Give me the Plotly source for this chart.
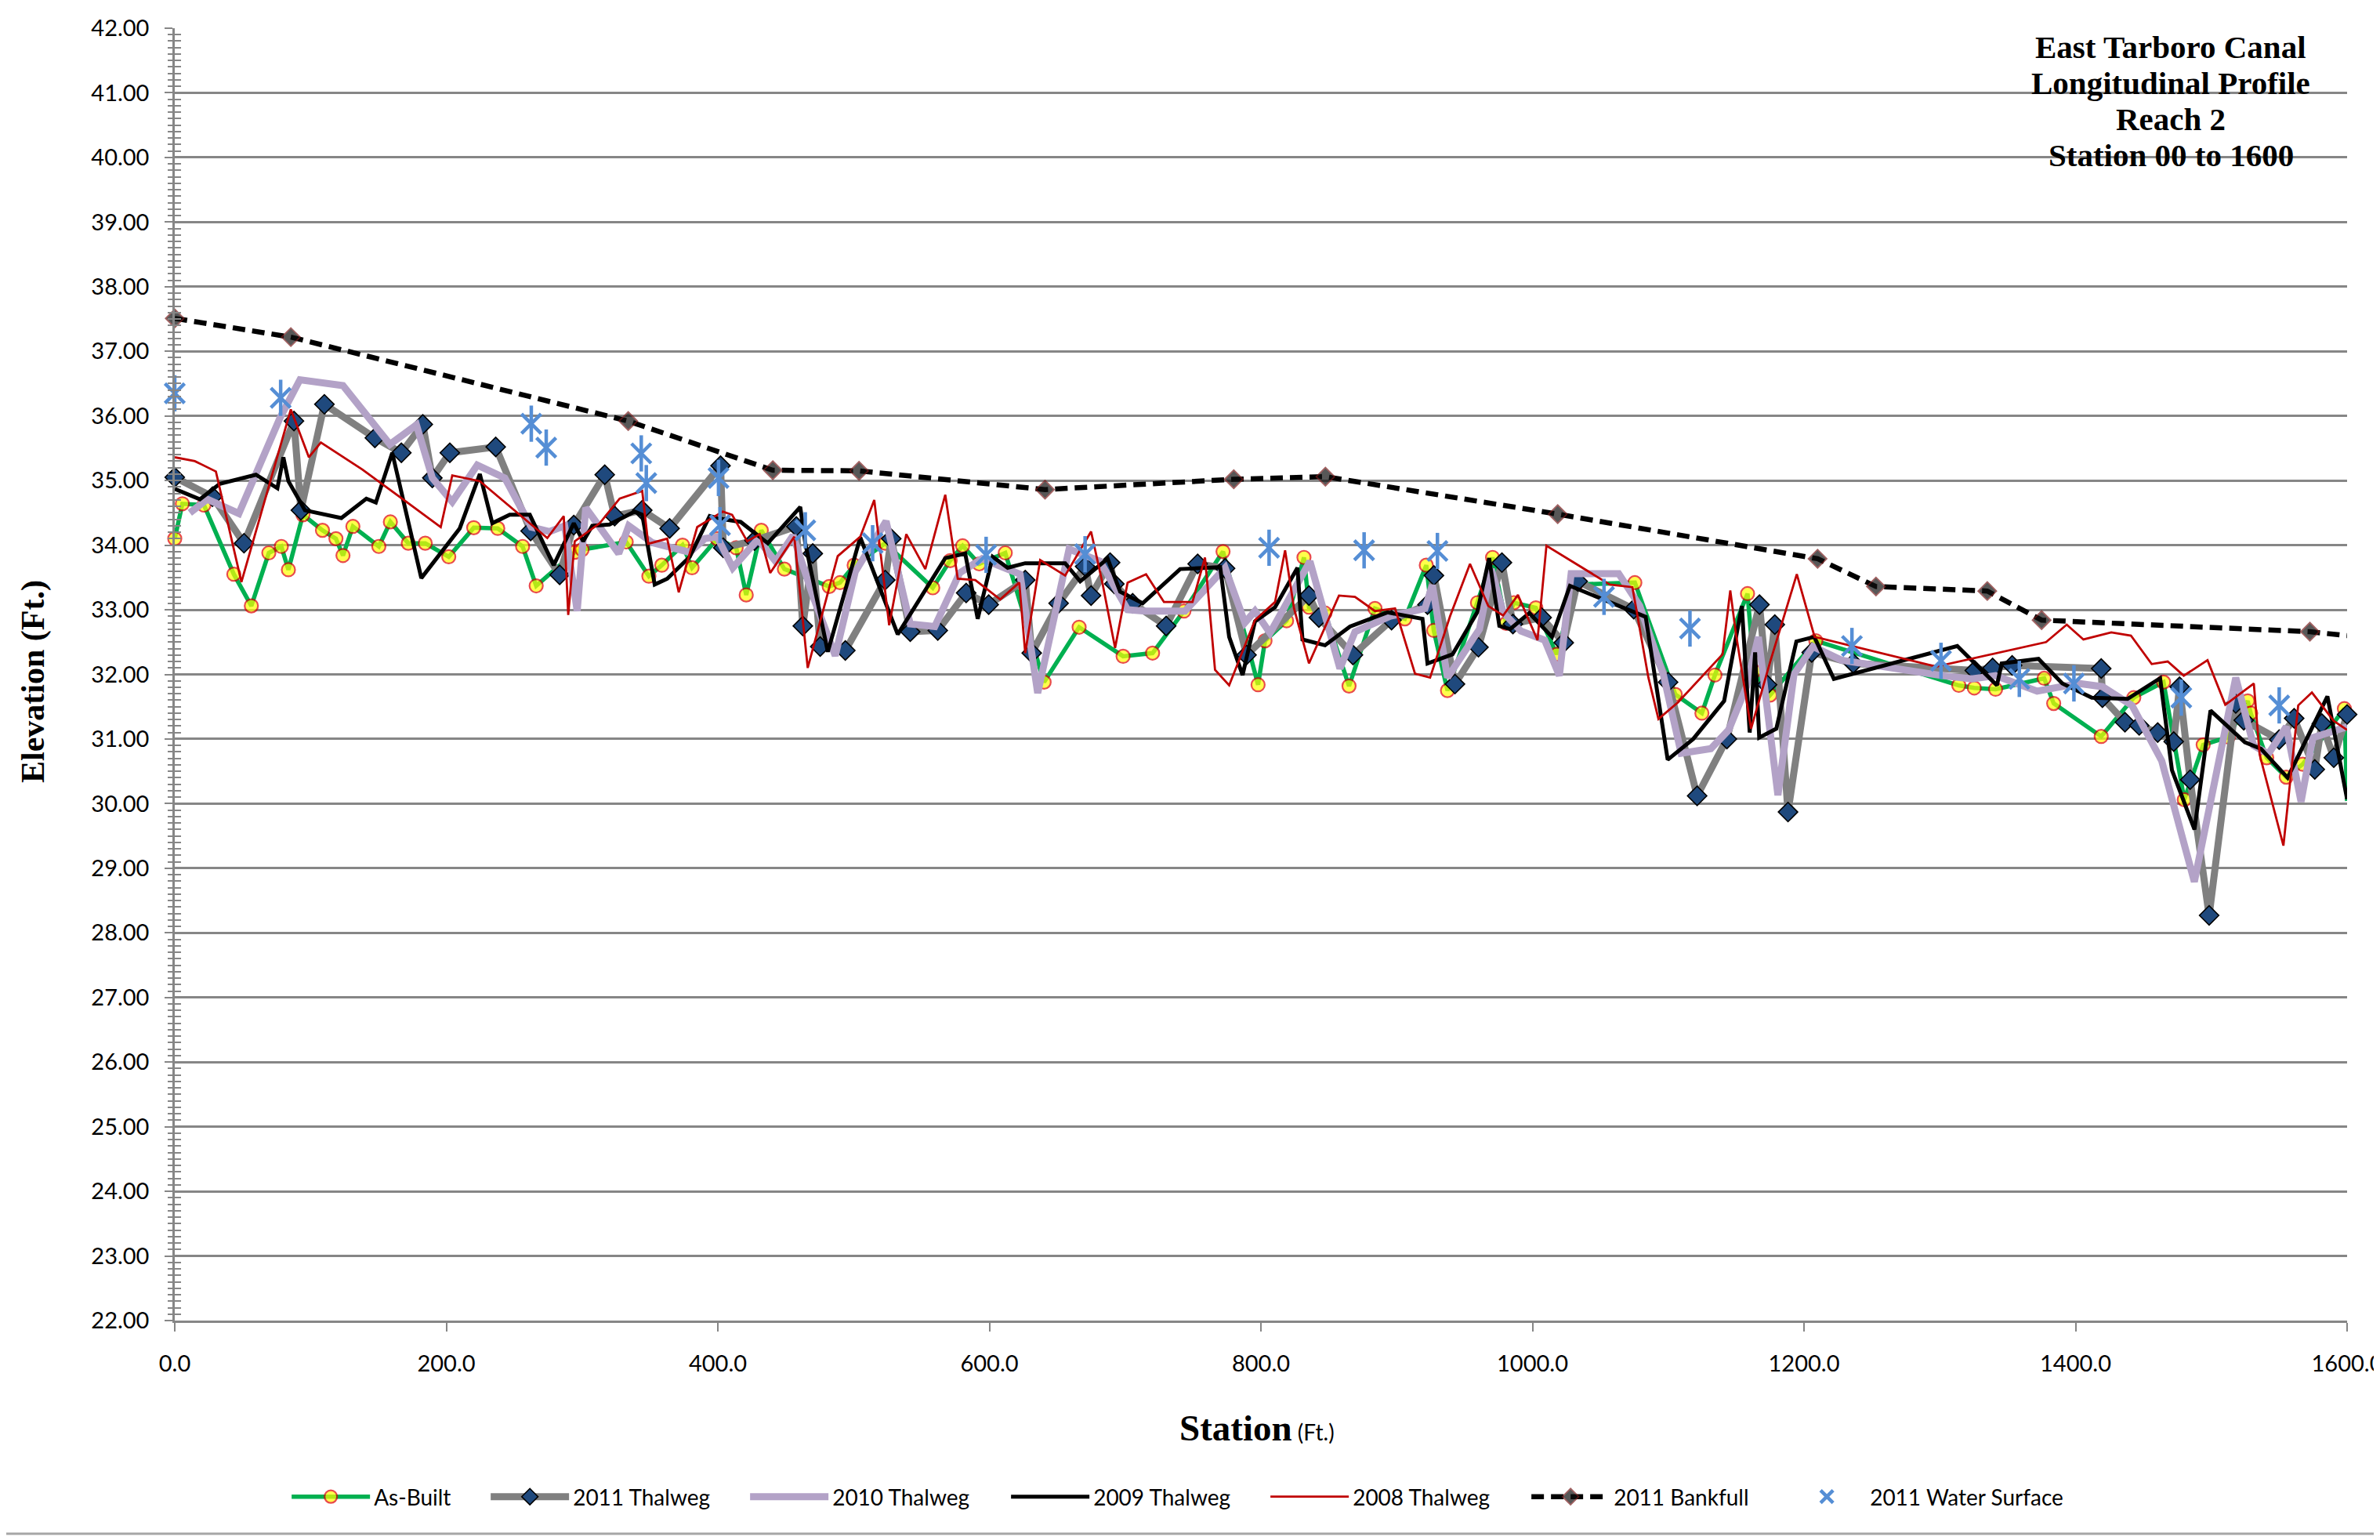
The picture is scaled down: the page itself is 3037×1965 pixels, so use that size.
import plotly.graph_objects as go

# ---------------- data ----------------
ab_x = [0, 5.6, 21.5, 43.5, 56.4, 69.3, 78.5, 83.7, 94.4, 108.8, 118.7, 123.9, 131.2, 150.3, 158.8, 172, 184.5,
        201.8, 220.2, 237.9, 256.2, 266.2, 294.6, 300, 332.5, 349.2, 358.7, 374, 381, 399.5, 413.5, 420.9, 432,
        449, 482, 490, 500.4, 523.3, 558.3, 571.1, 580.3, 592.5, 611.7, 640.3, 666.1, 698.5, 720.2, 743.3, 772.1,
        797.9, 803, 818.9, 831.7, 835.4, 847.2, 864.9, 884, 906, 921.8, 927.3, 937.4, 959.5, 970.6, 980.6, 986.3,
        1002.5, 1017.8, 1031.8, 1075.4, 1105.2, 1124.8, 1134.4, 1158.4, 1163.2, 1175, 1208.7, 1314, 1325.4,
        1341.1, 1376.9, 1383.9, 1418.9, 1442.9, 1464.8, 1480.1, 1494, 1512.5, 1526.8, 1529, 1540.8, 1555.2,
        1567.3, 1598, 1600]
ab_y = [34.10, 34.64, 34.62, 33.55, 33.06, 33.88, 33.98, 33.62, 34.47, 34.23, 34.10, 33.84, 34.29, 33.98, 34.36,
        34.03, 34.03, 33.82, 34.27, 34.26, 33.98, 33.37, 33.89, 33.93, 34.05, 33.52, 33.69, 34.00, 33.65, 34.10,
        33.96, 33.23, 34.23, 33.63, 33.36, 33.42, 33.69, 34.03, 33.34, 33.76, 33.99, 33.71, 33.88, 31.88, 32.73,
        32.28, 32.33, 32.98, 33.90, 31.84, 32.52, 32.83, 33.81, 33.04, 32.95, 31.82, 33.02, 32.86, 33.69, 32.68,
        31.75, 33.11, 33.81, 32.79, 33.11, 33.03, 32.31, 33.39, 33.42, 31.69, 31.40, 31.99, 33.25, 32.05, 31.68,
        32.52, 31.83, 31.79, 31.77, 31.94, 31.55, 31.04, 31.64, 31.88, 30.06, 30.91, 31.03, 31.59, 31.40, 30.71,
        30.41, 30.61, 31.47, 30.04]

t11_x = [0, 27.8, 51, 87.8, 92.9, 110.2, 147.4, 166.9, 182.7, 189.7, 202.6, 236.4, 262.1, 283.5, 293.9, 316.7,
         324, 344.3, 364.5, 402, 404, 427, 457.8, 462.6, 469.9, 475.4, 493.9, 523.3, 527.7, 541.7, 562, 582.9,
         599.5, 626.4, 631.2, 651, 670.5, 674.9, 688.9, 692, 705.5, 730.2, 753.4, 773.6, 789.4, 835.4, 842.7,
         867.8, 896.2, 922.7, 927.4, 942.9, 960.2, 977.5, 985.6, 1006.8, 1023, 1033.3, 1074.6, 1099.9, 1121.3,
         1143.2, 1167.2, 1172.8, 1178.5, 1188.2, 1205.7, 1236.3, 1325.8, 1338.9, 1353.3, 1418.9, 1419.8, 1436.4,
         1446.9, 1460.5, 1472.3, 1476.6, 1484.4, 1498.4, 1518, 1523.9, 1550, 1561, 1576.2, 1581.4, 1590.2, 1600]
t11_y = [35.05, 34.75, 34.03, 35.92, 34.54, 36.18, 35.66, 35.43, 35.87, 35.04, 35.43, 35.52, 34.22, 33.54, 34.31,
         35.09, 34.45, 34.54, 34.26, 35.23, 33.96, 34.07, 34.29, 32.75, 33.87, 32.43, 32.37, 33.46, 34.10, 32.66,
         32.68, 33.26, 33.08, 33.46, 32.33, 33.10, 33.67, 33.22, 33.73, 33.40, 33.10, 32.75, 33.71, 33.64, 32.30,
         33.22, 32.88, 32.30, 32.84, 33.08, 33.53, 31.85, 32.42, 33.73, 32.78, 32.88, 32.49, 33.44, 33.01, 31.88,
         30.12, 31.00, 33.08, 31.84, 32.77, 29.87, 32.34, 32.17, 32.06, 32.10, 32.14, 32.09, 31.64, 31.26, 31.21,
         31.10, 30.96, 31.81, 30.37, 28.27, 31.55, 31.29, 30.99, 31.32, 30.53, 31.24, 30.71, 31.38]

t10_x = [11.1, 24, 47.2, 77.5, 92.2, 123.9, 158.5, 178, 189.7, 204.4, 222.8, 243.1, 262.6, 276.1, 287.2, 296.4,
         302.7, 327, 334.4, 351.7, 379.3, 390.4, 399.5, 411, 429.5, 442.5, 455.4, 469.9, 486.5, 501.2, 523.9,
         541.7, 559.8, 578.1, 594.6, 622.6, 635.6, 658.7, 681.5, 701.8, 714.7, 744.1, 773.6, 788.2, 795.6, 806.7,
         836.1, 858.2, 869.3, 895, 920.8, 926.3, 937.4, 961, 969.7, 978.4, 991.5, 1009, 1019.8, 1028.5, 1063.5,
         1079, 1096.4, 1109.5, 1131.4, 1144.5, 1157.6, 1166.4, 1180.8, 1192.6, 1206.6, 1227.6, 1301.8, 1323.6,
         1341.1, 1371.7, 1402.3, 1419.8, 1441.6, 1463.5, 1487.5, 1505, 1518, 1531.1, 1542, 1555.2, 1566.1, 1574.8,
         1600]
t10_y = [34.50, 34.71, 34.49, 35.97, 36.56, 36.47, 35.56, 35.86, 35.04, 34.67, 35.24, 35.04, 34.28, 34.21, 34.30,
         32.98, 34.58, 33.87, 34.30, 34.04, 33.89, 34.10, 34.13, 33.65, 34.09, 33.75, 34.15, 33.22, 32.29, 33.59,
         34.37, 32.78, 32.74, 33.57, 33.79, 33.55, 31.71, 33.94, 33.75, 33.00, 32.98, 32.98, 33.65, 32.80, 32.98,
         32.64, 33.75, 32.09, 32.66, 32.90, 33.02, 33.38, 31.95, 32.70, 33.63, 32.96, 32.67, 32.53, 31.98, 33.56,
         33.56, 33.06, 32.00, 30.78, 30.85, 31.14, 31.81, 32.58, 30.13, 32.00, 32.43, 32.22, 31.98, 31.93, 31.98,
         31.74, 31.86, 31.81, 31.52, 30.66, 28.79, 30.61, 31.95, 30.90, 30.77, 31.19, 30.03, 31.02, 31.19]

t09_x = [0, 18.5, 33.2, 59.8, 75.6, 80, 83.7, 95.9, 122.7, 141.1, 148.1, 160.2, 181.6, 209.9, 224.7, 233.9, 246.7,
         261.5, 279.1, 293.9, 300.8, 307.5, 320.2, 338.7, 344.3, 353.5, 362.7, 379.3, 394, 401.4, 416.8, 436.8,
         460.7, 464.4, 481, 504.9, 532.5, 567.5, 582.2, 591.4, 602.4, 613.5, 626.4, 655.8, 666.9, 687.1, 696.3,
         712.9, 740.5, 770, 776.6, 786.5, 795.6, 810.4, 826.9, 830.6, 847.2, 865.6, 893.2, 919, 922.7, 941.1,
         959.3, 968.1, 975.6, 983.6, 997.7, 1014.4, 1027.6, 1075.7, 1083.4, 1099.6, 1118.4, 1141.2, 1154.2, 1160,
         1164, 1167, 1179.6, 1194.4, 1207.6, 1222, 1312.9, 1342.1, 1345.6, 1372.7, 1390.2, 1412, 1438.3, 1462.3,
         1471, 1487.6, 1499.4, 1524.7, 1536.5, 1556.2, 1585.5, 1600]
t09_y = [34.87, 34.71, 34.95, 35.09, 34.88, 35.36, 34.99, 34.54, 34.42, 34.72, 34.66, 35.43, 33.49, 34.26, 35.10,
         34.34, 34.47, 34.47, 33.69, 34.34, 34.06, 34.30, 34.32, 34.52, 34.47, 33.39, 33.48, 33.82, 34.45, 34.41,
         34.36, 34.03, 34.59, 34.03, 32.35, 34.12, 32.62, 33.80, 33.87, 32.86, 33.82, 33.65, 33.72, 33.72, 33.44,
         33.79, 33.28, 33.10, 33.63, 33.66, 32.58, 31.99, 32.82, 33.04, 33.65, 32.54, 32.45, 32.74, 32.96, 32.86,
         32.17, 32.31, 32.96, 33.80, 32.75, 32.70, 32.95, 32.58, 33.37, 32.96, 32.89, 30.68, 31.00, 31.59, 33.06,
         31.10, 32.34, 31.02, 31.16, 32.51, 32.58, 31.93, 32.44, 31.83, 32.17, 32.24, 31.86, 31.64, 31.62, 31.94,
         30.52, 29.60, 31.44, 30.95, 30.85, 30.40, 31.66, 30.07]

t08_x = [0, 14.8, 30.3, 49.1, 85.5, 98.8, 107.6, 138.2, 195.9, 204.4, 224.7, 274.4, 286.5, 289.8, 294.6, 313,
         327.7, 344.3, 348.7, 362.7, 371.2, 384.8, 403.6, 410.5, 421.6, 430.8, 438.6, 456.3, 466.2, 488.3, 504.9,
         515.2, 526.2, 538.8, 552.8, 567.5, 576.7, 589.6, 608, 622, 626.4, 637.4, 655.8, 674.9, 683.4, 692.6,
         701.8, 715.4, 728.6, 749.6, 758.8, 766.2, 776.6, 795.6, 810.4, 817.8, 824.4, 835.4, 857.5, 869.3, 884,
         898.8, 913.5, 924.6, 939.3, 954, 967.4, 978.4, 989.3, 1003.7, 1010.3, 1057, 1073.6, 1085.4, 1092.8,
         1107.3, 1140, 1145.7, 1149.7, 1161, 1175, 1194.7, 1207.8, 1297.4, 1378.3, 1393.5, 1405.8, 1426.3, 1440.8,
         1456.1, 1467.9, 1479.7, 1497.2, 1510.3, 1531.3, 1535.6, 1553.1, 1564, 1574.1, 1590.2, 1600]
t08_y = [35.36, 35.30, 35.14, 33.43, 36.10, 35.36, 35.59, 35.17, 34.28, 35.08, 34.99, 34.11, 34.45, 32.92, 34.06,
         34.34, 34.72, 34.84, 34.02, 34.10, 33.27, 34.28, 34.52, 34.47, 34.06, 34.17, 33.57, 34.13, 32.10, 33.83,
         34.13, 34.70, 32.76, 34.17, 33.63, 34.78, 33.48, 33.46, 33.16, 33.42, 32.33, 33.77, 33.53, 34.21, 33.40,
         32.41, 33.42, 33.55, 33.12, 33.12, 33.81, 32.07, 31.83, 32.84, 33.12, 33.92, 33.02, 32.17, 33.22, 33.20,
         32.98, 33.02, 32.01, 31.95, 32.90, 33.71, 33.06, 32.91, 33.23, 32.53, 33.99, 33.39, 33.35, 31.95, 31.31,
         31.57, 32.31, 33.30, 32.65, 31.16, 32.19, 33.55, 32.58, 32.12, 32.50, 32.77, 32.54, 32.65, 32.60, 32.16,
         32.20, 31.98, 32.22, 31.53, 31.86, 30.76, 29.35, 31.52, 31.72, 31.28, 31.14]

bf_x = [0, 85.5, 334, 440.5, 504, 641, 780, 847.5, 1018.6, 1210, 1253, 1335, 1375, 1572.6, 1600]
bf_y = [37.51, 37.22, 35.92, 35.16, 35.15, 34.86, 35.02, 35.06, 34.48, 33.79, 33.36, 33.29, 32.84, 32.66, 32.60]

ws_x = [0, 78, 262.6, 273.6, 343.6, 347.3, 400.5, 401.6, 464.4, 514, 597.6, 670.5, 806, 876, 930, 1052.7, 1116,
        1235.3, 1300.9, 1358.6, 1398.8, 1477.9, 1550]
ws_y = [36.35, 36.28, 35.88, 35.51, 35.42, 34.96, 35.04, 34.31, 34.23, 34.03, 33.85, 33.86, 33.96, 33.92, 33.91,
        33.20, 32.71, 32.44, 32.21, 31.93, 31.86, 31.64, 31.52]

x_ticks = [0, 200, 400, 600, 800, 1000, 1200, 1400, 1600]
title_lines = ["East Tarboro Canal", "Longitudinal Profile", "Reach 2", "Station 00 to 1600"]

# ---------------- geometry (pixels of the 3037x1965 page) ----------------
BODY = 8                      # default page margin of the html body
L, R, T, B = 223, 2995, 36, 1685
PW, PH = R - L, B - T
FIG_W, FIG_H = 3037 - BODY, 1965 - BODY


def px(xp):
    return (xp - L) / PW


def py(yp):
    return (B - yp) / PH


# ---------------- figure ----------------
GRID = "#868686"
WS_COL = "#558ED5"
fig = go.Figure()

ab_sizes = [17] * (len(ab_x) - 1) + [0]
fig.add_trace(go.Scatter(x=ab_x, y=ab_y, name="As-Built", mode="lines+markers", cliponaxis=False,
                         line=dict(color="#00B050", width=5.5),
                         marker=dict(symbol="circle", size=ab_sizes, color="#FFFF00",
                                     line=dict(color="#E00000", width=2.2)),
                         legendwidth=139))
fig.add_trace(go.Scatter(x=t11_x, y=t11_y, name="2011 Thalweg", mode="lines+markers", cliponaxis=False,
                         line=dict(color="#808080", width=9),
                         marker=dict(symbol="diamond", size=19, color="#1F497D",
                                     line=dict(color="#000000", width=1.6)),
                         legendwidth=216))
fig.add_trace(go.Scatter(x=t10_x, y=t10_y, name="2010 Thalweg", mode="lines", cliponaxis=False,
                         line=dict(color="#B3A2C7", width=9), legendwidth=218))
fig.add_trace(go.Scatter(x=t09_x, y=t09_y, name="2009 Thalweg", mode="lines", cliponaxis=False,
                         line=dict(color="#000000", width=5), legendwidth=216))
fig.add_trace(go.Scatter(x=t08_x, y=t08_y, name="2008 Thalweg", mode="lines", cliponaxis=False,
                         line=dict(color="#C00000", width=2.8), legendwidth=218))
bf_sizes = [18] * (len(bf_x) - 1) + [0]
fig.add_trace(go.Scatter(x=bf_x, y=bf_y, name="2011 Bankfull", mode="lines+markers", cliponaxis=False,
                         line=dict(color="#000000", width=6.5, dash="16px,9px"),
                         marker=dict(symbol="diamond", size=bf_sizes, color="#111111",
                                     line=dict(color="#7A1F1F", width=1.8)),
                         legendwidth=212))
fig.add_trace(go.Scatter(x=ws_x, y=ws_y, name="2011 Water Surface", mode="markers", cliponaxis=False,
                         marker=dict(symbol="x-thin-open", size=25, color=WS_COL,
                                     line=dict(color=WS_COL, width=4.5)),
                         legendwidth=267))
fig.add_trace(go.Scatter(x=ws_x, y=ws_y, name="2011 Water Surface", mode="markers", cliponaxis=False,
                         showlegend=False, hoverinfo="skip",
                         marker=dict(symbol="line-ns-open", size=33, color=WS_COL,
                                     line=dict(color=WS_COL, width=4.5))))

tickfont = dict(family="Lato, Carlito, Calibri, sans-serif", size=29, color="#000000")

fig.update_layout(
    width=FIG_W, height=FIG_H,
    margin=dict(l=L - BODY, r=3037 - R, t=T - BODY, b=1965 - B, autoexpand=False),
    paper_bgcolor="#FFFFFF", plot_bgcolor="#FFFFFF",
    showlegend=True,
    legend=dict(orientation="h", x=0.052, y=py(1910), xanchor="left", yanchor="middle",
                font=dict(family="Lato, Carlito, Calibri, sans-serif", size=28, color="#000000"),
                itemwidth=100, bgcolor="rgba(0,0,0,0)", traceorder="normal"),
    xaxis=dict(range=[0, 1600], tickvals=x_ticks, ticktext=[f"{v:.1f}" for v in x_ticks],
               showgrid=False, zeroline=False, showline=True, linecolor=GRID, linewidth=2.5,
               ticks="outside", ticklen=11, tickwidth=1.5, tickcolor=GRID, tickfont=tickfont,
               ticklabelstandoff=16, ticklabeloverflow="allow", automargin=False),
    yaxis=dict(range=[22, 42], dtick=1, tick0=22, tickformat=".2f",
               showgrid=True, gridcolor=GRID, gridwidth=2.5, zeroline=False,
               showline=True, linecolor=GRID, linewidth=2.5,
               ticks="outside", ticklen=10, tickwidth=2, tickcolor=GRID, tickfont=tickfont,
               ticklabelstandoff=14, automargin=False,
               minor=dict(dtick=0.1, ticks="outside", ticklen=6, tickwidth=2, tickcolor=GRID, showgrid=False)),
    yaxis2=dict(range=[22, 42], dtick=1, tick0=22, overlaying="y", side="left", anchor="x",
                showgrid=False, zeroline=False, showline=False, showticklabels=False, automargin=False,
                ticks="inside", ticklen=10, tickwidth=2, tickcolor=GRID,
                minor=dict(dtick=0.1, ticks="inside", ticklen=8, tickwidth=2, tickcolor=GRID, showgrid=False)),
)

# dummy trace to activate yaxis2
fig.add_trace(go.Scatter(x=[None], y=[None], yaxis="y2", showlegend=False, hoverinfo="skip"))

# Chart title block (top right), one line each for tight Excel-like spacing
title_centers = [60, 106, 152, 198]
for txt, yc in zip(title_lines, title_centers):
    fig.add_annotation(text=f"<b>{txt}</b>", xref="paper", yref="paper", x=px(2770), y=py(yc),
                       xanchor="center", yanchor="middle", showarrow=False,
                       font=dict(family="Liberation Serif, Times New Roman, serif", size=41, color="#000000"))

# Axis titles
fig.add_annotation(text="<b>Elevation (Ft.)</b>", xref="paper", yref="paper",
                   x=px(42), y=py(870), textangle=-90,
                   xanchor="center", yanchor="middle", showarrow=False,
                   font=dict(family="Liberation Serif, Times New Roman, serif", size=42, color="#000000"))
fig.add_annotation(text="<b>Station</b><span style='font-family:Lato;font-size:28px'> (Ft.)</span>",
                   xref="paper", yref="paper", x=px(1604), y=py(1822),
                   xanchor="center", yanchor="middle", showarrow=False,
                   font=dict(family="Liberation Serif, Times New Roman, serif", size=47, color="#000000"))

# bottom border of chart area
fig.add_shape(type="line", xref="paper", yref="paper",
              x0=px(0), x1=px(3037), y0=py(1957), y1=py(1957),
              line=dict(color="#A6A6A6", width=3))

fig.write_html("out.html")
